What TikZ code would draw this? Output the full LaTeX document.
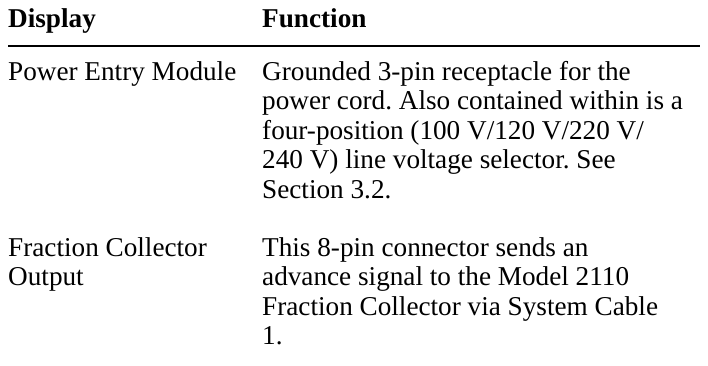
\documentclass[tikz,border=0pt]{standalone}
\usepackage{fontspec}
\setmainfont{Liberation Serif}
\usepackage{tikz}

\tikzset{
	cell/.style={anchor=base west, inner sep=0pt, font=\fontsize{27.2}{29.5}\selectfont},
	headcell/.style={cell, font=\fontsize{27.2}{29.5}\selectfont\bfseries}
}

\begin{document}
\frenchspacing
\begin{tikzpicture}[x=1pt, y=-1pt]
			%%%%% START %%%%%
			\useasboundingbox (0, 0) rectangle (708, 365);
			
			\node[headcell] (hdisplay) at (8, 27) {Display};
			\node[headcell] (hfunction) at (262, 27) {Function};
			\draw[line width=1.4pt] (8, 46) -- (700, 46);
			
			% row 1
			\node[cell] (disp1) at (8, 80) {Power Entry Module};
			\foreach \txt [count=\i] in {Grounded 3-pin receptacle for the,
				power cord. Also contained within is a,
				four-position (100 V/120 V/220 V/,
				240 V) line voltage selector. See,
				Section 3.2.}
				\node[cell] (func1-\i) at (262, 80 + 29.5*\i - 29.5) {\txt};
			
			% row 2
			\node[cell] (disp2a) at (8, 256) {Fraction Collector};
			\node[cell] (disp2b) at (8, 285.5) {Output};
			\foreach \txt [count=\i] in {This 8-pin connector sends an,
				advance signal to the Model 2110,
				Fraction Collector via System Cable,
				1.}
				\node[cell] (func2-\i) at (262, 256 + 29.5*\i - 29.5) {\txt};
			
			%%%%% END %%%%%
\end{tikzpicture}
\end{document}
